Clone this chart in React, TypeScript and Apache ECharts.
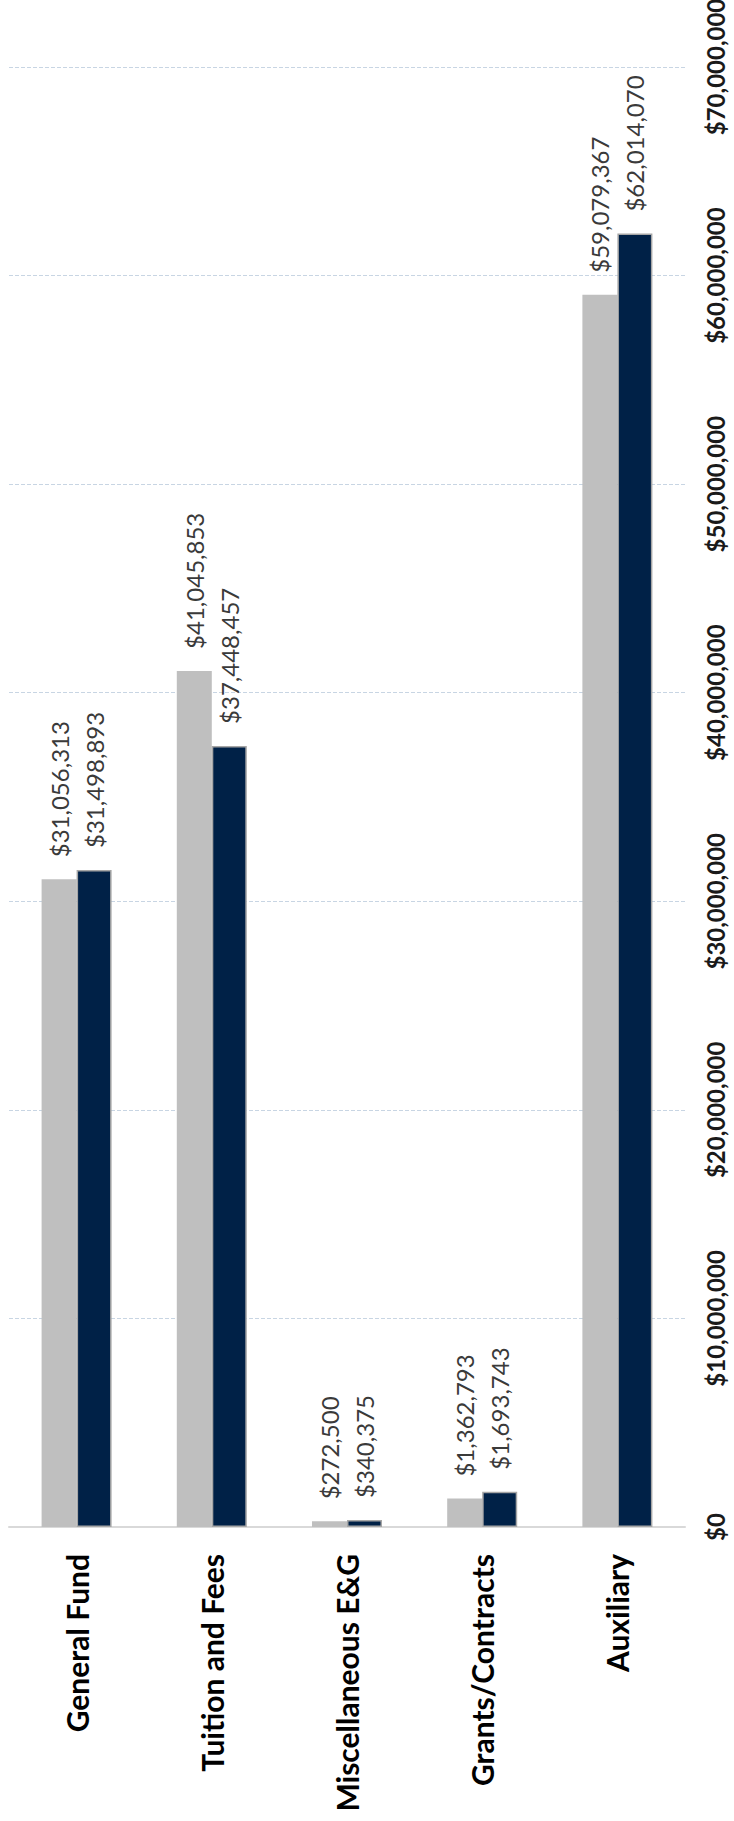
import React, { useEffect, useRef } from "react";
import * as echarts from "echarts";

const categories = ["General Fund", "Tuition and Fees", "Miscellaneous E&G", "Grants/Contracts", "Auxiliary"];
const seriesPrior = [31056313, 41045853, 272500, 1362793, 59079367];
const seriesCurrent = [31498893, 37448457, 340375, 1693743, 62014070];
const valueTicks = { min: 0, max: 70000000, interval: 10000000 };

const fmt = (v: number) => "$" + Math.round(v).toLocaleString("en-US");
const FONT = "Lato, 'Open Sans', sans-serif";

export default function App() {
  const ref = useRef<HTMLDivElement>(null);
  useEffect(() => {
    if (!ref.current) return;
    const chart = echarts.init(ref.current, null, { renderer: "svg" });
    const dataLabel = {
      show: true,
      position: "top" as const,
      rotate: 90,
      align: "left" as const,
      verticalAlign: "middle" as const,
      distance: 22,
      formatter: (p: any) => fmt(p.value),
      fontFamily: FONT,
      fontSize: 24,
      color: "#3a3a3a",
    };
    chart.setOption({
      animation: false,
      backgroundColor: "#ffffff",
      grid: { left: 9, right: 49, top: 67, bottom: 294, containLabel: false, outerBoundsMode: "none" },
      xAxis: {
        type: "category",
        data: categories,
        axisLine: { show: true, lineStyle: { color: "#D9D9D9", width: 2 } },
        axisTick: { show: false },
        axisLabel: {
          rotate: 90,
          margin: 27,
          fontFamily: FONT,
          fontWeight: "bold",
          fontSize: 30,
          color: "#000000",
          interval: 0,
        },
      },
      yAxis: {
        type: "value",
        position: "right",
        min: valueTicks.min,
        max: valueTicks.max,
        interval: valueTicks.interval,
        axisLine: { show: false },
        axisTick: { show: false },
        splitLine: { show: true, lineStyle: { color: "#C8D5E3", width: 1, type: "dashed" } },
        axisLabel: {
          rotate: 90,
          margin: 18,
          fontFamily: FONT,
          fontWeight: "bold",
          fontSize: 24,
          color: "#1a1a1a",
          formatter: (v: number) => fmt(v),
        },
      },
      series: [
        {
          name: "Prior",
          type: "bar",
          data: seriesPrior,
          barWidth: 35,
          barGap: "0%",
          itemStyle: { color: "#BFBFBF" },
          label: dataLabel,
        },
        {
          name: "Current",
          type: "bar",
          data: seriesCurrent,
          barWidth: 35,
          barGap: "0%",
          itemStyle: { color: "#002147", borderColor: "#A6A6A6", borderWidth: 1.5 },
          label: dataLabel,
        },
      ],
    });
    return () => chart.dispose();
  }, []);
  return (
    <div
      ref={ref}
      style={{ position: "absolute", left: 0, top: 0, width: 734, height: 1821, background: "#fff" }}
    />
  );
}
